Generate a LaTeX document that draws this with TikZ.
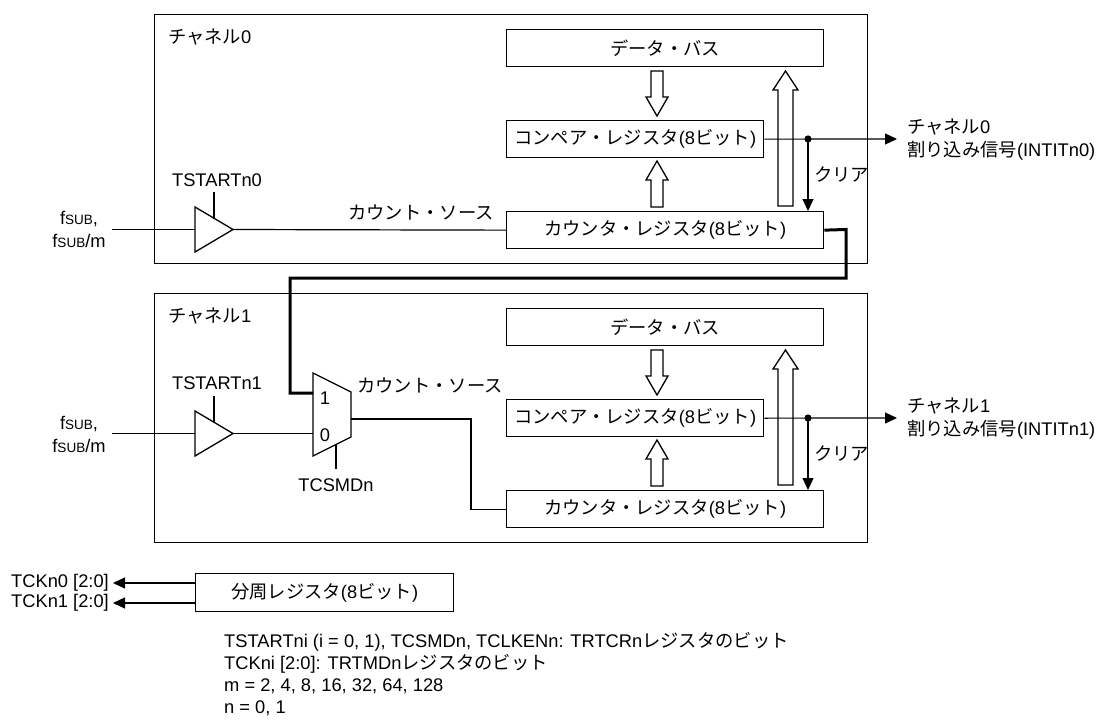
\documentclass[tikz,border=0pt]{standalone}
\usepackage{fontspec}
\setmainfont{Liberation Sans}
\newfontfamily\jpfont{Noto Sans CJK JP}
\usetikzlibrary{arrows.meta}
\newcommand\J[1]{{\jpfont #1}}
\newcommand\fsub{f{\fontsize{13.5pt}{14pt}\selectfont SUB}}
\begin{document}
\begin{tikzpicture}[x=1pt,y=-1pt,
  every node/.style={inner sep=0pt, font=\fontsize{18.3pt}{23pt}\selectfont},
  frame/.style={draw, line width=1.3pt, anchor=north west, minimum width=713pt, minimum height=249pt},
  reg/.style={draw, line width=1.3pt, anchor=north west, minimum height=37pt},
  wire/.style={line width=1.2pt},
  thickwire/.style={line width=3pt},
  sig/.style={wire, -{Triangle[length=12pt,width=11pt]}},
  hollow/.style={draw, line width=1.3pt, fill=white, line join=miter},
  gate/.style={draw, line width=1.3pt, fill=white}]
\useasboundingbox (0,0) rectangle (1099,722);

% channel frames
\node[frame] (ch0) at (154,14) {};
\node[frame] (ch1) at (154,293) {};
\node[anchor=west] (ch0lbl) at (168,37) {\J{チャネル}0};
\node[anchor=west] (ch1lbl) at (168,316) {\J{チャネル}1};

% right side, both channels
\foreach \c/\dy in {0/0,1/279}{
  \node[reg, minimum width=317pt] (db\c) at (506,29+\dy) {\J{データ・バス}};
  \node[reg, minimum width=257pt] (cmp\c) at (506,120+\dy) {\J{コンペア・レジスタ}(8\J{ビット})};
  \node[reg, minimum width=317pt] (cnt\c) at (506,211+\dy) {\J{カウンタ・レジスタ}(8\J{ビット})};
  % hollow arrows
  \draw[hollow] (651,71+\dy) -- (663,71+\dy) -- (663,97+\dy) -- (668,97+\dy) -- (657,116+\dy) -- (646,97+\dy) -- (651,97+\dy) -- cycle;
  \draw[hollow] (651,207+\dy) -- (663,207+\dy) -- (663,180+\dy) -- (668,180+\dy) -- (657,161+\dy) -- (646,180+\dy) -- (651,180+\dy) -- cycle;
  \draw[hollow] (778,206+\dy) -- (793,206+\dy) -- (793,90+\dy) -- (798,90+\dy) -- (785.5,71+\dy) -- (773,90+\dy) -- (778,90+\dy) -- cycle;
  % output and clear
  \coordinate (dot\c) at (808,139+\dy);
  \coordinate (out\c) at (897,139+\dy);
  \draw[sig] (cmp\c.east) -- (out\c);
  \fill (dot\c) circle (3.6pt);
  \draw[sig] (dot\c) -- (dot\c |- cnt\c.north);
  \node[anchor=west] (clr\c) at (814,175+\dy) {\J{クリア}};
  \node[anchor=west, align=left] (int\c) at (907,140+\dy) {\J{チャネル}\c\\\J{割り込み信号}(INTITn\c)};
}

% channel 0 left side
\coordinate (in0) at (112,229.5);
\coordinate (tri0in) at (195,229.5);
\coordinate (tri0out) at (233,229.5);
\draw[gate] (195,207) -- (233,229.5) -- (195,252) -- cycle;
\draw[wire] (in0) -- (tri0in);
\draw[wire] (tri0out) -- (cnt0.west);
\coordinate (ts0a) at (214,192);
\coordinate (ts0b) at (214,218.5);
\draw[wire] (ts0a) -- (ts0b);
\node (ts0) at (217,180) {TSTARTn0};
\node[align=center] (f0) at (79,229) {\fsub,\\\fsub/m};
\node (cs0) at (421,213) {\J{カウント・ソース}};

% channel 1 left side
\coordinate (in1) at (112,433.5);
\coordinate (tri1in) at (195,433.5);
\coordinate (tri1out) at (233,433.5);
\draw[gate] (195,411) -- (233,433.5) -- (195,456) -- cycle;
\draw[wire] (in1) -- (tri1in);
\coordinate (mux0) at (313,433.5);
\coordinate (mux1) at (313,393);
\coordinate (muxout) at (351,419);
\draw[wire] (tri1out) -- (mux0);
\coordinate (ts1a) at (214,396);
\coordinate (ts1b) at (214,422.5);
\draw[wire] (ts1a) -- (ts1b);
\node (ts1) at (217,383) {TSTARTn1};
\node[align=center] (f1) at (79,434) {\fsub,\\\fsub/m};
\draw[gate] (313,373) -- (351,392) -- (351,437) -- (313,456) -- cycle;
\node (m1) at (325,398) {1};
\node (m0) at (325,435) {0};
\coordinate (sela) at (336,444.5);
\coordinate (selb) at (336,469);
\draw[wire] (sela) -- (selb);
\node (tcsmd) at (336,485) {TCSMDn};
\node (cs1) at (430,386) {\J{カウント・ソース}};
\draw[wire] (muxout) -- (471,419) |- (cnt1.west);

% cascade connection
\draw[thickwire] (cnt0.east) -- (846,229.5) -- (846,278) -- (290,278) -- (290,393) -- (mux1);

% divider register
\node[reg, minimum width=258pt, minimum height=38pt] (div) at (195,573) {\J{分周レジスタ}(8\J{ビット})};
\coordinate (tck0) at (113,583);
\coordinate (tck1) at (113,603);
\draw[sig] (div.west |- tck0) -- (tck0);
\draw[sig] (div.west |- tck1) -- (tck1);
\node[anchor=east] (tck0l) at (109,583) {TCKn0 [2:0]};
\node[anchor=east] (tck1l) at (109,603) {TCKn1 [2:0]};

% notes
\node[anchor=west] (n1) at (224,642) {TSTARTni (i = 0, 1), TCSMDn, TCLKENn: TRTCRn\J{レジスタのビット}};
\node[anchor=west] (n2) at (224,664) {TCKni [2:0]: TRTMDn\J{レジスタのビット}};
\node[anchor=west] (n3) at (224,686) {m = 2, 4, 8, 16, 32, 64, 128};
\node[anchor=west] (n4) at (224,708) {n = 0, 1};
\end{tikzpicture}
\end{document}
